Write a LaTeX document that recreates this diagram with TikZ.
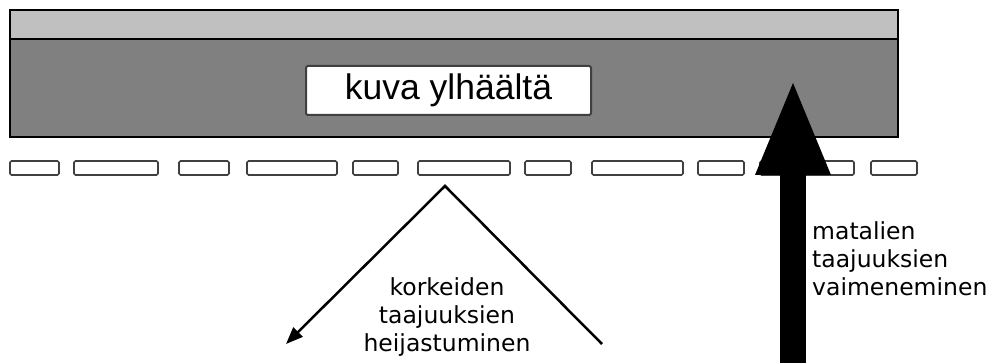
\documentclass[tikz,border=0pt]{standalone}
\usepackage{fontspec}
\setmainfont{Liberation Sans}
\newfontfamily\lblfont{DejaVu Sans}
\usetikzlibrary{arrows.meta}
\definecolor{boardlight}{HTML}{C0C0C0}
\definecolor{boarddark}{HTML}{808080}
\definecolor{slatedge}{HTML}{404040}
\begin{document}
\begin{tikzpicture}[x=1pt,y=-1pt,
	board/.style={draw=black,line width=2pt},
	slat/.style={draw=slatedge,fill=white,line width=1.6pt,rounded corners=1.5pt},
	caption/.style={font=\lblfont\fontsize{23.5}{28}\selectfont,inner sep=0pt}]
	\useasboundingbox (0,0) rectangle (1005,363);
	% \draw[step=50,gray!50,very thin] (0,0) grid (1005,363);
	% Board seen from above
	\draw[board,fill=boarddark] (10,10) rectangle (898,137);
	\draw[board,fill=boardlight] (10,10) rectangle (898,39);
	\node[draw=slatedge,fill=white,line width=2pt,rounded corners=2pt,
		minimum width=285pt,minimum height=49pt,inner sep=0pt,
		font=\fontsize{35.5}{40}\selectfont] (top) at (448.5,90.5) {kuva ylhäältä};
	% Slats
	\foreach \a/\b in {10/59,74/158,179/229,247/337,353/398,418/510,
		525/571,592/683,698/744,760/854,871/917}
		\draw[slat] (\a,161) rectangle (\b,175);
	% Reflected part
	\coordinate (hin) at (602,344);
	\coordinate (hit) at (445,186);
	\coordinate (hout) at (286,344);
	\draw[line width=2.5pt,-{Triangle[length=17pt,width=13pt]}] (hin) -- (hit) -- (hout);
	\node[caption,anchor=north,align=center] (high) at (447,277)
		{korkeiden\\taajuuksien\\heijastuminen};
	% Transmitted part
	\coordinate (lfoot) at (793,370);
	\coordinate (ltip) at (793,83);
	\draw[line width=26pt,-{Triangle[length=92pt,width=76pt,line width=0pt]}] (lfoot) -- (ltip);
	\node[caption,anchor=north west,align=left] (low) at (812,221)
		{matalien\\taajuuksien\\vaimeneminen};
\end{tikzpicture}
\end{document}
